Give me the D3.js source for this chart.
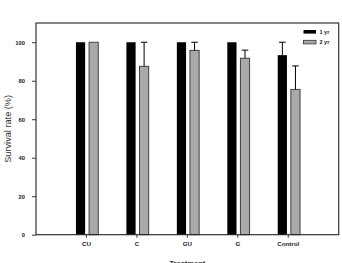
<!DOCTYPE html>
<html>
<head>
<meta charset="utf-8">
<script src="https://cdn.jsdelivr.net/npm/d3@7"></script>
<style>
  html, body { margin: 0; padding: 0; background: #fff; }
  svg { display: block; font-family: "Liberation Sans", Arial, sans-serif; }
</style>
</head>
<body>
<div id="chart"></div>
<script>
// data
const treatments = ['CU', 'C', 'GU', 'G', 'Control'];
const series = ['1 yr', '2 yr'];
const year1 = [100, 100, 100, 100, 93.3];
const year1Err = [0, 0, 0, 0, 6.7];
const year2 = [100, 87.5, 95.8, 91.7, 75.5];
const year2Err = [0, 12.5, 4.2, 4.2, 12.2];
const yTicks = [0, 20, 40, 60, 80, 100];

const width = 342, height = 263;
const margin = { top: 23, right: 3.3, bottom: 28.3, left: 36 };

const colors = d3.scaleOrdinal().domain(series).range(['#000000', '#a9a9a9']);

const svg = d3.select('#chart').append('svg')
  .attr('width', width)
  .attr('height', height);

const x0 = d3.scaleBand()
  .domain(treatments)
  .range([margin.left, width - margin.right])
  .paddingInner(0)
  .paddingOuter(0.5);

// offset of each bar from the category tick
const x1 = d3.scaleOrdinal().domain(series).range([-10.5, 2.6]);
const barW = 9.2;

const y = d3.scaleLinear()
  .domain([0, 110])
  .range([height - margin.bottom, margin.top]);

const rows = treatments.map((t, i) => ({
  key: t,
  values: [
    { s: series[0], v: year1[i], e: year1Err[i] },
    { s: series[1], v: year2[i], e: year2Err[i] }
  ]
}));

// bars
const groups = svg.append('g')
  .selectAll('g')
  .data(rows)
  .join('g')
    .attr('transform', d => `translate(${x0(d.key) + x0.bandwidth() / 2},0)`);

groups.selectAll('rect')
  .data(d => d.values)
  .join('rect')
    .attr('x', d => x1(d.s))
    .attr('y', d => y(d.v))
    .attr('width', barW)
    .attr('height', d => y(0) - y(d.v))
    .attr('fill', d => colors(d.s))
    .attr('stroke', d => d.s === series[1] ? '#333' : 'none')
    .attr('stroke-width', 0.9);

// error bars (upper only)
const errs = groups.selectAll('g.err')
  .data(d => d.values.filter(v => v.e > 0))
  .join('g')
    .attr('class', 'err')
    .attr('stroke', '#000')
    .attr('stroke-width', 1);

errs.append('line')
  .attr('x1', d => x1(d.s) + barW / 2)
  .attr('x2', d => x1(d.s) + barW / 2)
  .attr('y1', d => y(d.v))
  .attr('y2', d => y(d.v + d.e));

errs.append('line')
  .attr('x1', d => x1(d.s) + barW / 2 - 3.3)
  .attr('x2', d => x1(d.s) + barW / 2 + 3.3)
  .attr('y1', d => y(d.v + d.e))
  .attr('y2', d => y(d.v + d.e));

// frame
svg.append('rect')
  .attr('x', margin.left)
  .attr('y', margin.top)
  .attr('width', width - margin.left - margin.right)
  .attr('height', height - margin.top - margin.bottom)
  .attr('fill', 'none')
  .attr('stroke', '#222')
  .attr('stroke-width', 1.1);

// axes
svg.append('g')
  .attr('transform', `translate(${margin.left},0)`)
  .call(d3.axisLeft(y).tickValues(yTicks).tickSize(4).tickPadding(7))
  .call(g => g.select('.domain').remove())
  .call(g => g.selectAll('line').attr('stroke', '#333'))
  .call(g => g.selectAll('text')
    .attr('font-size', 5.8)
    .attr('font-weight', 'bold')
    .attr('fill', '#222')
    .attr('font-family', '"Liberation Sans", Arial, sans-serif'));

svg.append('g')
  .attr('transform', `translate(0,${height - margin.bottom})`)
  .call(d3.axisBottom(x0).tickSize(3).tickPadding(4))
  .call(g => g.select('.domain').remove())
  .call(g => g.selectAll('line').attr('stroke', '#333'))
  .call(g => g.selectAll('text')
    .attr('font-size', 6.2)
    .attr('font-weight', 'bold')
    .attr('fill', '#222')
    .attr('font-family', '"Liberation Sans", Arial, sans-serif'));

// axis titles
svg.append('text')
  .attr('transform', `translate(10.5,${(y(0) + y(110)) / 2}) rotate(-90)`)
  .attr('text-anchor', 'middle')
  .attr('font-size', 9.2)
  .attr('fill', '#333')
  .text('Survival rate (%)');

svg.append('text')
  .attr('x', (margin.left + width - margin.right) / 2)
  .attr('y', 265.5)
  .attr('text-anchor', 'middle')
  .attr('font-size', 7.5)
  .attr('font-weight', 'bold')
  .attr('fill', '#333')
  .text('Treatment');

// legend
const legend = svg.append('g')
  .selectAll('g')
  .data(series)
  .join('g')
    .attr('transform', (d, i) => `translate(303.5,${30 + i * 10.3})`);

legend.append('rect')
  .attr('width', 12.5)
  .attr('height', 3.6)
  .attr('fill', d => colors(d))
  .attr('stroke', d => d === series[1] ? '#333' : 'none')
  .attr('stroke-width', 0.8);

legend.append('text')
  .attr('x', 16)
  .attr('y', 1.8)
  .attr('dy', '0.35em')
  .attr('font-size', 5.5)
  .attr('font-weight', 'bold')
  .attr('fill', '#222')
  .text(d => d);
</script>
</body>
</html>
